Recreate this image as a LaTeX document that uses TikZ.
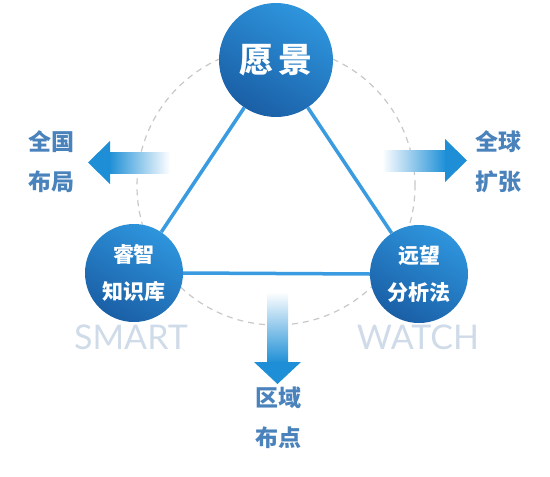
\documentclass[tikz,border=0pt]{standalone}
\usepackage{fontspec}
\setmainfont{Lato}
\newfontfamily\cjk{Noto Sans CJK SC}
\usetikzlibrary{shapes.geometric}
\definecolor{lineblue}{HTML}{3A9BE0}
\definecolor{ballhi}{HTML}{2E95DD}
\definecolor{balllo}{HTML}{1A5FA6}
\definecolor{arrblue}{HTML}{1E8FD6}
\definecolor{labblue}{HTML}{4A82BC}
\definecolor{ghost}{HTML}{CFDBE8}
\definecolor{dashgray}{HTML}{C8C8C8}
\begin{document}
\begin{tikzpicture}[x=1pt,y=-1pt,
  ball/.style={circle,inner sep=0pt,shading=axis,top color=ballhi,bottom color=balllo,shading angle=-30,text=white,align=center,font=\cjk\bfseries},
  tri/.style={draw=lineblue,line width=3.5pt},
  lab/.style={text=labblue,font=\cjk\bfseries\fontsize{23}{40}\selectfont,align=center},
  ghosttext/.style={text=ghost,font=\fontsize{34}{34}\selectfont}]
\useasboundingbox (0,0) rectangle (550,477);
% dashed circle
\node[draw=dashgray,dashed,line width=1.2pt,dash pattern=on 6pt off 5pt,circle,minimum size=278pt,inner sep=0pt] (ring) at (276,186) {};
% left arrow
\shade[left color=arrblue,right color=white] (109,152) rectangle (170,173);
\fill[arrblue] (110,141) -- (88,162.5) -- (110,184) -- cycle;
% right arrow
\shade[left color=white,right color=arrblue] (382,150) rectangle (446,171);
\fill[arrblue] (445,139) -- (467,160.5) -- (445,182) -- cycle;
% down arrow
\shade[top color=white,bottom color=arrblue] (267,292) rectangle (288,363);
\fill[arrblue] (254,362) -- (277.5,384) -- (301,362) -- cycle;
% circles
\node[ball,minimum size=114pt,font=\cjk\bfseries\fontsize{34}{34}\selectfont] (top) at (276,60) {愿\,景};
\node[ball,minimum size=98pt,font=\cjk\bfseries\fontsize{21}{37}\selectfont] (left) at (134,273) {睿智\\知识库};
\node[ball,minimum size=98pt,font=\cjk\bfseries\fontsize{21}{37}\selectfont] (right) at (419,274) {远望\\分析法};
\draw[tri] (top) -- (left);
\draw[tri] (top) -- (right);
\draw[tri] (left.east) -- (right.west);
% labels
\node[lab] (l1) at (51,162) {全国\\布局};
\node[lab] (l2) at (498,162) {全球\\扩张};
\node[lab] (l3) at (278,418) {区域\\布点};
\node[ghosttext] (smart) at (131,337) {SMART};
\node[ghosttext] (watch) at (418,337) {WATCH};
\end{tikzpicture}
\end{document}
